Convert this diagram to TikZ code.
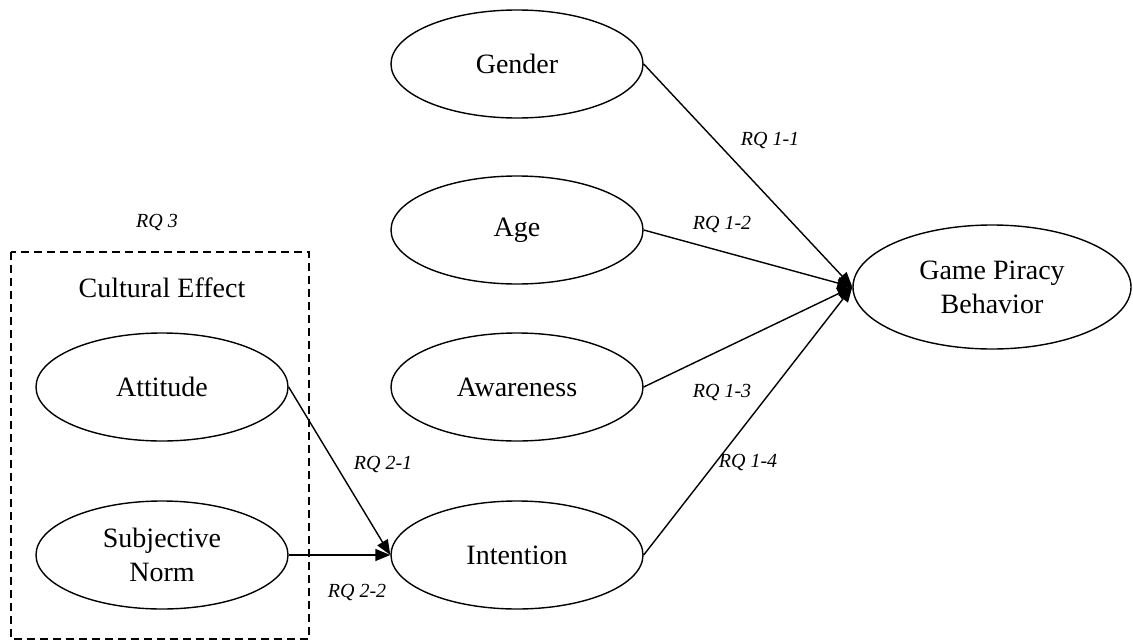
\documentclass[tikz,border=0pt]{standalone}
\usepackage{fontspec}
\setmainfont{Liberation Serif}
\usetikzlibrary{shapes.geometric,arrows.meta}
\begin{document}
\begin{tikzpicture}[x=1pt,y=-1pt,
  oval/.style={ellipse,draw,line width=1.4pt,inner sep=0pt,minimum width=252pt,minimum height=108pt,font=\fontsize{28}{34}\selectfont,align=center},
  conn/.style={line width=1.4pt,-{Triangle[length=15pt,width=12pt]}},
  rq/.style={font=\fontsize{20}{24}\selectfont\itshape},
  grp/.style={draw,dashed,line width=1.4pt,dash pattern=on 8pt off 5pt}]
\useasboundingbox (0,0) rectangle (1133,640);
\node[oval] (gender) at (517,64) {Gender};
\node[oval] (age) at (517,230) {Age};
\node[oval] (aware) at (517,387) {Awareness};
\node[oval] (intent) at (517,555) {Intention};
\node[oval] (attitude) at (162,387) {Attitude};
\node[oval] (norm) at (162,555) {Subjective\\Norm};
\node[oval,minimum width=278pt,minimum height=124pt] (gpb) at (992,287) {Game Piracy\\Behavior};
\draw[grp] (11,252) rectangle (309,639);
\node[font=\fontsize{28}{34}\selectfont] (cult) at (162,288) {Cultural Effect};
\node[rq] (rq3) at (157,222) {RQ 3};
\draw[conn] (gender.east) -- (gpb.west);
\draw[conn] (age.east) -- (gpb.west);
\draw[conn] (aware.east) -- (gpb.west);
\draw[conn] (intent.east) -- (gpb.west);
\draw[conn] (attitude.east) -- (intent.west);
\draw[conn] (norm.east) -- (intent.west);
\node[rq] (l11) at (770,140) {RQ 1-1};
\node[rq] (l12) at (722,224) {RQ 1-2};
\node[rq] (l13) at (722,392) {RQ 1-3};
\node[rq] (l14) at (748,462) {RQ 1-4};
\node[rq] (l21) at (383,464) {RQ 2-1};
\node[rq] (l22) at (357,592) {RQ 2-2};
\end{tikzpicture}
\end{document}
